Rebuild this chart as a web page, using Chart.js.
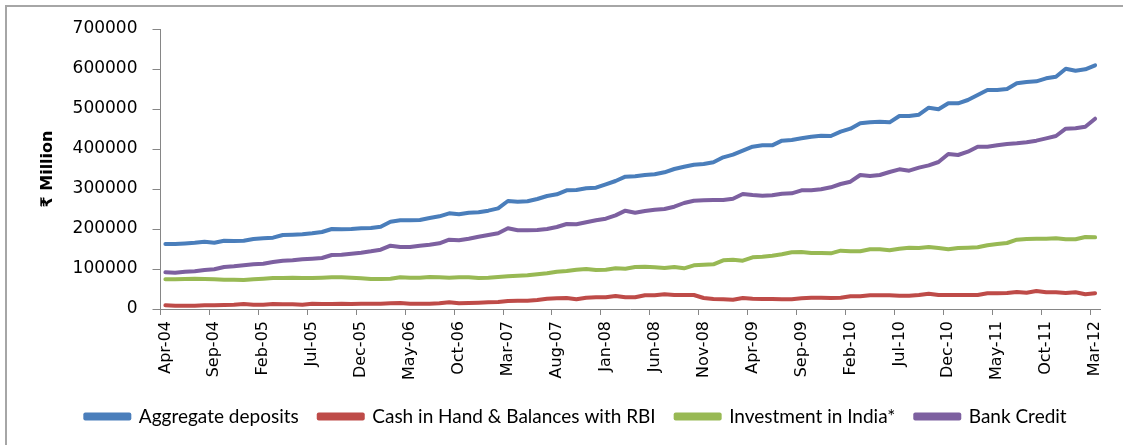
<!DOCTYPE html>
<html>
<head>
<meta charset="utf-8">
<script src="https://cdn.jsdelivr.net/npm/chart.js@4.4.1/dist/chart.umd.min.js"></script>
<style>
  body { margin: 0; background: #fff; }
  #wrap { position: relative; width: 1123px; height: 445px; }
  #frame { position: absolute; left: 5px; top: 5px; right: 0; bottom: 0;
           border-top: 2px solid #a6a6a6; border-left: 2px solid #a6a6a6; }
  canvas { position: absolute; left: 0; top: 0; }
</style>
</head>
<body>
<div id="wrap">
  <div id="frame"></div>
  <canvas id="myChart" width="1123" height="445"></canvas>
</div>
<script>
// months Apr-04 .. Mar-12
var monthNames = ['Jan','Feb','Mar','Apr','May','Jun','Jul','Aug','Sep','Oct','Nov','Dec'];
var months = [];
for (var k = 0; k < 96; k++) {
    var m = (3 + k) % 12;
    var yr = 4 + Math.floor((3 + k) / 12);
    months.push(monthNames[m] + '-' + (yr < 10 ? '0' + yr : yr));
}

var yTicks = [0, 100000, 200000, 300000, 400000, 500000, 600000, 700000];

var aggregateDeposits = [
    162500,162500,164000,165800,168300,165800,170800,170000,170800,175000,176700,178300,
    185000,185800,186700,189200,192500,200000,199200,200000,201700,202500,205800,218300,
    221700,221700,222500,227500,231700,239200,236700,240800,241700,245800,251700,270000,
    268300,269200,275000,282500,286700,296700,297500,301700,303300,311700,320000,330800,
    331700,335000,336700,341700,350000,355800,360800,362500,366700,379200,385800,395800,
    405800,409200,409200,420800,422500,426700,430800,433300,432500,443300,450800,464200,
    466700,468300,466700,482500,482500,485800,503300,499200,514200,514200,522500,535000,
    547500,547500,550000,564200,567500,569200,576700,580800,600800,595800,599200,609200
];

var cashInHand = [
    9200,8300,8300,8300,9200,9200,10000,10800,12500,10800,10800,12500,
    11700,11700,10800,13300,12500,12500,13300,12500,13300,13300,13300,14200,
    15000,13300,13300,13300,14200,16700,14200,15000,15900,16700,17500,20000,
    20800,20800,22500,25800,26700,27500,24200,28300,29200,29200,32500,29200,
    29200,34200,34200,36700,35000,35000,35000,27500,25000,24200,23300,27500,
    25800,25000,25000,24200,24200,26700,28300,28300,27500,28300,31700,31700,
    34200,34200,34200,33300,33300,35000,38300,35000,35000,35000,35000,35000,
    39200,39200,40000,42500,40800,45000,41700,41700,40000,41700,36700,39200
];

var investmentInIndia = [
    74200,74200,75000,75800,75000,74200,73300,73300,72500,74200,75800,77500,
    77500,78300,77500,77500,78300,79200,79200,78300,76700,75000,75000,75800,
    79200,78300,78300,80000,79200,78300,79200,79200,77500,78300,80000,81700,
    83300,84200,86700,89200,93300,95000,98300,100000,97500,98300,101700,100800,
    105000,105800,104200,102500,105000,101700,109200,110800,111700,121700,123300,120800,
    129200,130800,133300,136700,141700,142500,140000,140000,139200,145800,144200,144200,
    149200,149200,146700,150800,153300,152500,155000,152500,149200,152500,153300,154200,
    159200,162500,165000,173300,175000,175800,175800,176700,174200,174200,180000,179200
];

var bankCredit = [
    91700,90800,93300,94200,97500,99200,105000,106700,109200,111700,113300,117500,
    120800,121700,124200,125800,127500,135000,135800,138300,140800,144200,148300,158300,
    155000,155000,158300,160800,164200,173300,171700,175800,180800,185000,189200,201700,
    196700,196700,197500,200000,205000,212500,211700,216700,221700,225800,234200,245800,
    240800,245000,248300,250000,255800,265000,270800,271700,272500,272500,275800,287500,
    285000,283300,284200,288300,289200,296700,296700,299200,304200,312500,318300,335000,
    332500,335000,342500,349200,345800,353300,359200,367500,387500,385000,393300,405800,
    405800,409200,412500,414200,416700,420800,426700,432500,450800,451700,455800,475800
];

var seriesNames = ['Aggregate deposits', 'Cash in Hand & Balances with RBI', 'Investment in India*', 'Bank Credit'];
var seriesColors = ['#4a7ebb', '#be4b48', '#98b954', '#7d60a0'];
var seriesData = [aggregateDeposits, cashInHand, investmentInIndia, bankCredit];

var axisColor = '#868686';
var tickFont = "'DejaVu Sans', sans-serif";
var legendFont = "Lato, 'DejaVu Sans', sans-serif";

var datasets = [];
for (var s = 0; s < seriesNames.length; s++) {
    datasets.push({
        label: seriesNames[s],
        data: seriesData[s],
        borderColor: seriesColors[s],
        backgroundColor: seriesColors[s],
        borderWidth: 4,
        pointRadius: 0,
        tension: 0,
        borderJoinStyle: 'round',
        borderCapStyle: 'round'
    });
}

var ctx = document.getElementById('myChart').getContext('2d');
var myChart = new Chart(ctx, {
    type: 'line',
    data: { labels: months, datasets: datasets },
    options: {
        responsive: false,
        animation: false,
        layout: { padding: { top: 29, left: 52, right: 23, bottom: 9 } },
        plugins: {
            legend: {
                position: 'bottom',
                labels: {
                    boxWidth: 44,
                    boxHeight: 4,
                    padding: 20,
                    color: '#000',
                    font: { family: legendFont, size: 19 }
                }
            },
            tooltip: { enabled: false }
        },
        scales: {
            x: {
                type: 'category',
                offset: true,
                grid: {
                    offset: true,
                    drawOnChartArea: false,
                    tickLength: 6,
                    color: function (c) { return (c.index % 5 === 0) ? axisColor : 'rgba(0,0,0,0)'; }
                },
                border: { color: axisColor, width: 1 },
                ticks: {
                    autoSkip: false,
                    minRotation: 90,
                    maxRotation: 90,
                    padding: 6,
                    color: '#000',
                    font: { family: tickFont, size: 16 },
                    callback: function (v, i) { return i % 5 === 0 ? months[i] : ''; }
                },
                afterFit: function (scale) { scale.height = 78; }
            },
            y: {
                min: yTicks[0],
                max: yTicks[yTicks.length - 1],
                grid: { drawOnChartArea: false, tickLength: 8, color: axisColor },
                border: { color: axisColor, width: 1 },
                afterBuildTicks: function (scale) {
                    scale.ticks = yTicks.map(function (v) { return { value: v }; });
                },
                ticks: {
                    padding: 15,
                    color: '#000',
                    font: { family: tickFont, size: 17 },
                    callback: function (v) { return String(v); }
                },
                title: {
                    display: true,
                    text: '₹ Million',
                    color: '#000',
                    font: { family: tickFont, size: 16, weight: 'bold' },
                    padding: { top: -13.6, bottom: 0 }
                },
                afterFit: function (scale) { scale.width = 108.5; }
            }
        }
    }
});
</script>
</body>
</html>
